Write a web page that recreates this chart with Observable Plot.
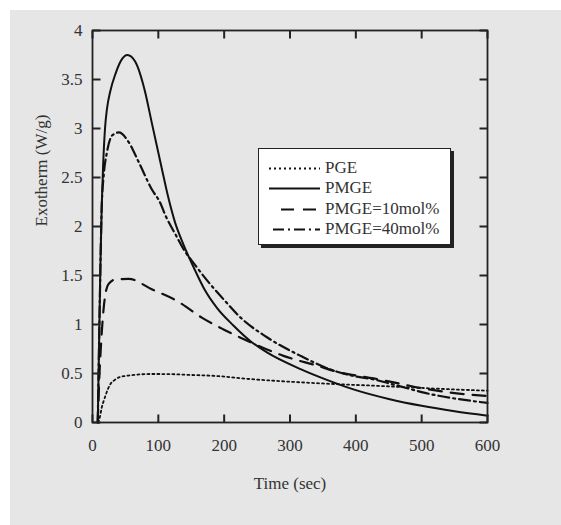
<!DOCTYPE html>
<html>
<head>
<meta charset="utf-8">
<script src="https://cdn.jsdelivr.net/npm/d3@7"></script>
<script src="https://cdn.jsdelivr.net/npm/@observablehq/plot@0.6"></script>
<style>
  html, body { margin: 0; padding: 0; background: #ffffff; }
  #wrap { position: relative; width: 561px; height: 525px; background: #ffffff; overflow: hidden; }
  #panel { position: absolute; left: 10px; top: 10px; width: 551px; height: 515px; background: #e6e6e6; }
  #legend { position: absolute; left: 258px; top: 148px; width: 191px; height: 95px; background: #ffffff;
            border: 1.5px solid #222; box-shadow: 3px 3px 0 #222; font-family: "Liberation Serif", serif; font-size: 17px; color: #333; }
  .row { position: absolute; left: 0; height: 20px; width: 191px; }
  .row svg { position: absolute; left: 0; top: 0; }
  .row span { position: absolute; left: 66px; top: 0; line-height: 20px; white-space: nowrap; }
</style>
</head>
<body>
<div id="wrap"><div id="panel"></div><div id="legend"></div></div>
<script>
// Series names
const seriesNames = ["PGE", "PMGE", "PMGE=10mol%", "PMGE=40mol%"];

// PGE (dotted)
const pgeT = [9, 12, 14, 17, 20, 24, 28, 33, 40, 50, 65, 90, 115, 150, 182, 240, 316, 376, 430, 478, 540, 600];
const pgeV = [0, 0.08, 0.15, 0.22, 0.28, 0.35, 0.40, 0.43, 0.46, 0.475, 0.487, 0.495, 0.494, 0.485, 0.477, 0.443, 0.41, 0.39, 0.375, 0.36, 0.34, 0.325];

// PMGE (solid)
const pmgeT = [8, 10, 12, 14, 16, 19, 22, 27, 35, 45, 53, 65, 80, 90, 105, 115, 125, 136, 156, 170, 189, 214, 240, 265, 316, 366, 400, 450, 500, 550, 600];
const pmgeV = [0, 0.8, 1.6, 2.2, 2.6, 3.0, 3.2, 3.38, 3.56, 3.71, 3.75, 3.68, 3.37, 3.06, 2.6, 2.3, 2.05, 1.85, 1.55, 1.36, 1.17, 0.99, 0.83, 0.715, 0.545, 0.41, 0.33, 0.24, 0.17, 0.115, 0.07];

// PMGE=10mol% (dashed)
const p10T = [8, 10, 13, 17, 24, 35, 55, 90, 131, 166, 199, 240, 290, 341, 376, 400, 427, 450, 478, 500, 528, 550, 600];
const p10V = [0, 0.4, 0.8, 1.17, 1.41, 1.46, 1.465, 1.36, 1.23, 1.07, 0.95, 0.82, 0.68, 0.58, 0.51, 0.48, 0.45, 0.42, 0.38, 0.35, 0.32, 0.30, 0.27];

// PMGE=40mol% (dash-dot)
const p40T = [8, 11, 14, 17, 22, 30, 40, 55, 70, 90, 103, 111, 126, 140, 151, 174, 200, 225, 265, 316, 366, 400, 427, 450, 478, 500, 528, 550, 600];
const p40V = [0, 1.2, 2.2, 2.52, 2.76, 2.93, 2.96, 2.86, 2.66, 2.38, 2.24, 2.11, 1.92, 1.75, 1.65, 1.45, 1.25, 1.07, 0.87, 0.68, 0.53, 0.47, 0.44, 0.40, 0.35, 0.31, 0.27, 0.245, 0.20];

// Ticks
const xTicks = [0, 100, 200, 300, 400, 500, 600];
const yTicks = [0, 0.5, 1, 1.5, 2, 2.5, 3, 3.5, 4];

const toRows = (T, V) => T.map((t, i) => ({t, v: V[i]}));
const series = [
  {name: seriesNames[0], data: toRows(pgeT, pgeV), dash: "2,3", width: 1.8},
  {name: seriesNames[1], data: toRows(pmgeT, pmgeV), dash: null, width: 2},
  {name: seriesNames[2], data: toRows(p10T, p10V), dash: "13,9", width: 2.2},
  {name: seriesNames[3], data: toRows(p40T, p40V), dash: "11,4,2,4", width: 2.2}
];

const W = 551, H = 515, mL = 82, mR = 74, mT = 20, mB = 103;
const xDomain = [0, 600], yDomain = [0, 4];
const frameW = W - mL - mR, frameH = H - mT - mB, tickPx = 8;
const xTickLen = (xDomain[1] - xDomain[0]) * tickPx / frameW;
const yTickLen = (yDomain[1] - yDomain[0]) * tickPx / frameH;
const ink = "#111", axisInk = "#222";

// tick segments as rows (built from the tick label arrays)
const xTickRows = xTicks.flatMap(t => [
  {x1: t, x2: t, y1: yDomain[0], y2: yDomain[0] + yTickLen},
  {x1: t, x2: t, y1: yDomain[1] - yTickLen, y2: yDomain[1]}
]);
const yTickRows = yTicks.flatMap(v => [
  {x1: xDomain[0], x2: xDomain[0] + xTickLen, y1: v, y2: v},
  {x1: xDomain[1] - xTickLen, x2: xDomain[1], y1: v, y2: v}
]);

const chart = Plot.plot({
  width: W,
  height: H,
  marginLeft: mL,
  marginRight: mR,
  marginTop: mT,
  marginBottom: mB,
  x: {domain: xDomain},
  y: {domain: yDomain},
  style: {background: "transparent", fontFamily: "Liberation Serif, serif", fontSize: "17px", color: "#333"},
  marks: [
    ...series.map(s => Plot.line(s.data, {x: "t", y: "v", stroke: ink, strokeWidth: s.width, strokeDasharray: s.dash, curve: "monotone-x"})),
    Plot.frame({stroke: axisInk, strokeWidth: 1.8}),
    Plot.link(xTickRows.concat(yTickRows), {x1: "x1", x2: "x2", y1: "y1", y2: "y2", stroke: axisInk, strokeWidth: 2}),
    Plot.axisX(xTicks, {anchor: "bottom", tickSize: 0, tickPadding: 16, tickFormat: d => String(d), label: null}),
    Plot.axisY(yTicks, {anchor: "left", tickSize: 0, tickPadding: 10, tickFormat: d => String(d), label: null}),
    Plot.text(["Time (sec)"], {frameAnchor: "bottom", dy: 61, lineAnchor: "middle", fill: "#333", fontSize: 17}),
    Plot.text(["Exotherm (W/g)"], {frameAnchor: "left", dx: -51, rotate: -90, lineAnchor: "middle", fill: "#333", fontSize: 17})
  ]
});
document.getElementById("panel").appendChild(chart);

// Legend
const legend = document.getElementById("legend");
const rowTops = [8.5, 29, 49.5, 70];
const sampleStart = [10, 10, 22, 14];
series.forEach((s, i) => {
  const row = document.createElement("div");
  row.className = "row";
  row.style.top = rowTops[i] + "px";
  const ns = "http://www.w3.org/2000/svg";
  const svg = document.createElementNS(ns, "svg");
  svg.setAttribute("width", 64);
  svg.setAttribute("height", 20);
  const ln = document.createElementNS(ns, "line");
  ln.setAttribute("x1", sampleStart[i]);
  ln.setAttribute("x2", 61);
  ln.setAttribute("y1", 10.5);
  ln.setAttribute("y2", 10.5);
  ln.setAttribute("stroke", ink);
  ln.setAttribute("stroke-width", s.width);
  if (s.dash) ln.setAttribute("stroke-dasharray", s.dash);
  svg.appendChild(ln);
  const sp = document.createElement("span");
  sp.textContent = s.name;
  row.appendChild(svg);
  row.appendChild(sp);
  legend.appendChild(row);
});
</script>
</body>
</html>
